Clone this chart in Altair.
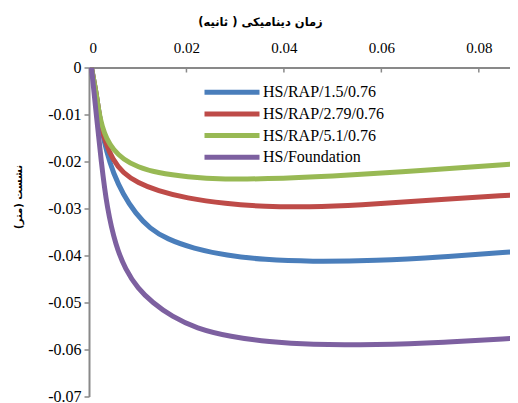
import altair as alt
import pandas as pd

series_names = ["HS/RAP/1.5/0.76", "HS/RAP/2.79/0.76", "HS/RAP/5.1/0.76", "HS/Foundation"]
colors = ["#4A7EBB", "#BE4B48", "#98B954", "#7D60A0"]

blue_x = [0.0005, 0.0014, 0.0021, 0.0026, 0.0036, 0.0050, 0.0070, 0.0095, 0.0125, 0.0160, 0.0214, 0.0282, 0.0360, 0.0452, 0.0590, 0.0727, 0.0873]
blue_y = [0.0, -0.005, -0.010, -0.013, -0.018, -0.0225, -0.0270, -0.0310, -0.0343, -0.0365, -0.0385, -0.0400, -0.0409, -0.0413, -0.0411, -0.0403, -0.0392]

red_x = [0.0005, 0.0014, 0.0021, 0.0026, 0.0034, 0.0048, 0.0070, 0.0100, 0.0140, 0.0200, 0.0280, 0.0360, 0.0450, 0.0555, 0.0692, 0.0873]
red_y = [0.0, -0.005, -0.010, -0.013, -0.016, -0.0195, -0.0225, -0.0245, -0.0262, -0.0278, -0.0290, -0.0296, -0.0297, -0.0293, -0.0283, -0.0271]

green_x = [0.0005, 0.0014, 0.0021, 0.0027, 0.0036, 0.0050, 0.0070, 0.0100, 0.0140, 0.0200, 0.0280, 0.0360, 0.0487, 0.0692, 0.0873]
green_y = [0.0, -0.005, -0.010, -0.0125, -0.0152, -0.0175, -0.0195, -0.0212, -0.0224, -0.0233, -0.0238, -0.0237, -0.0232, -0.0219, -0.0205]

purple_x = [0.0005, 0.0015, 0.0025, 0.0037, 0.0055, 0.0075, 0.0100, 0.0130, 0.0170, 0.0220, 0.0290, 0.0370, 0.0452, 0.0590, 0.0727, 0.0873]
purple_y = [0.0, -0.010, -0.020, -0.030, -0.038, -0.0430, -0.0470, -0.0500, -0.0530, -0.0555, -0.0573, -0.0584, -0.0590, -0.0590, -0.0585, -0.0576]

x_ticks = [0, 0.02, 0.04, 0.06, 0.08]
y_ticks = [0, -0.01, -0.02, -0.03, -0.04, -0.05, -0.06, -0.07]

x_title = "زمان دینامیکی ( ثانیه)"
y_title = "نشست (متر)"

rows = []
for name, xs, ys in zip(series_names,
                        [blue_x, red_x, green_x, purple_x],
                        [blue_y, red_y, green_y, purple_y]):
    for i, (a, b) in enumerate(zip(xs, ys)):
        rows.append({"series": name, "t": a, "s": b, "order": i})
df = pd.DataFrame(rows)
ticks_df = pd.DataFrame({"t": x_ticks[1:]})

grey = "#898989"

x_scale = alt.Scale(domain=[0, 0.0864], nice=False, zero=False)
y_scale = alt.Scale(domain=[-0.07, 0], nice=False)

lines = alt.Chart(df).mark_line(strokeWidth=5, interpolate="basis", clip=True).encode(
    x=alt.X("t:Q", scale=x_scale,
            axis=alt.Axis(orient="top", values=x_ticks, ticks=False, grid=False,
                          domainColor=grey, domainWidth=2,
                          labelFont="Liberation Serif", labelFontSize=15, labelColor="black",
                          labelPadding=12,
                          labelExpr="datum.value == 0 ? '0' : format(datum.value, '.2f')",
                          title=x_title, titleFont="DejaVu Sans", titleFontSize=11.5,
                          titleFontWeight="bold", titleColor="black",
                          titleX=171, titleY=-45.5, titleAlign="center", titleBaseline="middle")),
    y=alt.Y("s:Q", scale=y_scale,
            axis=alt.Axis(orient="left", values=y_ticks, grid=False,
                          domainColor=grey, domainWidth=2,
                          tickColor=grey, tickSize=5, tickWidth=1.5,
                          labelFont="Liberation Serif", labelFontSize=16, labelColor="black",
                          labelPadding=3,
                          labelExpr="datum.value == 0 ? '0' : '-' + format(-datum.value, '.2f')",
                          title=y_title, titleFont="DejaVu Sans", titleFontSize=10,
                          titleFontWeight="bold", titleColor="black",
                          titleX=-71, titleY=129, titleAlign="center", titleBaseline="middle")),
    color=alt.Color("series:N", scale=alt.Scale(domain=series_names, range=colors),
                    legend=alt.Legend(orient="none", legendX=113, legendY=16.7, title=None,
                                      symbolType="M-5,0H5", symbolSize=121, symbolStrokeWidth=5,
                                      symbolOffset=22,
                                      labelFont="Liberation Serif", labelFontSize=16,
                                      labelColor="black", labelOffset=23, rowPadding=1.7,
                                      padding=0)),
    order="order:Q",
)

tick_marks = alt.Chart(ticks_df).mark_rule(color=grey, strokeWidth=1.5).encode(
    x=alt.X("t:Q", scale=x_scale),
    y=alt.value(0),
    y2=alt.value(5),
)

chart = alt.layer(tick_marks, lines).properties(
    width=421, height=329,
    autosize=alt.AutoSizeParams(type="none"),
    padding={"left": 81, "top": 59.5, "right": 0, "bottom": 6},
).configure_view(stroke=None)

chart.save("out.html", embed_options={"renderer": "svg", "actions": False})
